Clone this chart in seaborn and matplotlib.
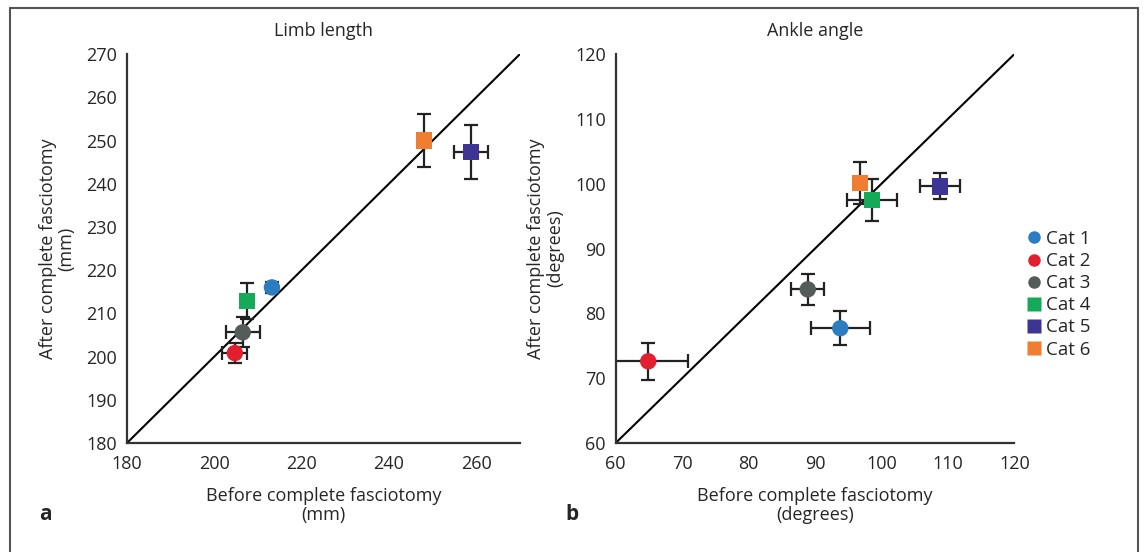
import matplotlib
matplotlib.use("Agg")
import matplotlib.pyplot as plt
import seaborn as sns
import pandas as pd
from matplotlib.lines import Line2D

# --- dados ---
categorias = ['Cat 1', 'Cat 2', 'Cat 3', 'Cat 4', 'Cat 5', 'Cat 6']
cores = ['#2b7cc0', '#e11f2f', '#555b59', '#17a95a', '#3e3493', '#ef7d32']
marcadores = ['o', 'o', 'o', 's', 's', 's']

# painel a: comprimento do membro (mm)
limb_antes = [213.2, 204.7, 206.5, 207.5, 258.8, 248.0]
limb_depois = [216.0, 200.8, 205.6, 212.8, 247.3, 250.0]
limb_xerr = [0.0, 2.9, 3.9, 0.0, 3.9, 0.0]
limb_yerr = [1.2, 2.3, 3.5, 4.2, 6.3, 6.2]

# painel b: angulo do tornozelo (graus)
ankle_antes = [93.8, 64.9, 88.9, 98.6, 108.8, 96.8]
ankle_depois = [77.7, 72.6, 83.7, 97.5, 99.6, 100.1]
ankle_xerr = [4.4, 6.0, 2.5, 3.8, 3.0, 0.0]
ankle_yerr = [2.6, 2.9, 2.4, 3.2, 2.0, 3.2]

sns.set_style("white")
plt.rcParams['font.family'] = ['Open Sans', 'DejaVu Sans']

fig = plt.figure(figsize=(11.44, 5.52), dpi=100)
ax_a = fig.add_axes([0.111, 0.1975, 0.3435, 0.7045])
ax_b = fig.add_axes([0.5382, 0.1975, 0.3485, 0.7045])

paleta = dict(zip(categorias, cores))
estilos = dict(zip(categorias, marcadores))


def painel(ax, antes, depois, xerr, yerr, lim, xticks, yticks, titulo, unidade):
    df = pd.DataFrame({'Categoria': categorias, 'Antes': antes, 'Depois': depois})
    # linha identidade
    ax.plot(lim, lim, color='black', lw=1.5, zorder=1)
    # barras de erro
    for i in range(len(categorias)):
        ax.errorbar(antes[i], depois[i],
                    xerr=xerr[i] if xerr[i] > 0 else None,
                    yerr=yerr[i] if yerr[i] > 0 else None,
                    fmt='none', ecolor='#222222', elinewidth=1.6,
                    capsize=5, capthick=1.6, zorder=2)
    sns.scatterplot(data=df, x='Antes', y='Depois', hue='Categoria', style='Categoria',
                    palette=paleta, markers=estilos, s=140, edgecolor='none',
                    legend=False, ax=ax, zorder=3)
    ax.set_xlim(lim)
    ax.set_ylim(lim)
    ax.set_xticks(xticks)
    ax.set_yticks(yticks)
    ax.set_title(titulo, fontsize=13, pad=13)
    ax.set_xlabel(f'Before complete fasciotomy\n{unidade}', fontsize=13,
                  linespacing=1.05, labelpad=10)
    ax.set_ylabel(f'After complete fasciotomy\n{unidade}', fontsize=13,
                  linespacing=1.05, labelpad=8)
    ax.tick_params(labelsize=13, length=3, color='#999999', direction='out')
    ax.tick_params(axis='x', pad=6)
    ax.tick_params(axis='y', pad=4)
    for s in ['top', 'right']:
        ax.spines[s].set_visible(False)
    for s in ['left', 'bottom']:
        ax.spines[s].set_color('#333333')
        ax.spines[s].set_linewidth(1.6)


painel(ax_a, limb_antes, limb_depois, limb_xerr, limb_yerr, [180, 270],
       [180, 200, 220, 240, 260], list(range(180, 271, 10)), 'Limb length', '(mm)')
painel(ax_b, ankle_antes, ankle_depois, ankle_xerr, ankle_yerr, [60, 120],
       list(range(60, 121, 10)), list(range(60, 121, 10)), 'Ankle angle', '(degrees)')

# legenda
handles = [Line2D([0], [0], marker=m, color='none', markerfacecolor=c,
                  markeredgecolor='none', markersize=9 if m == 'o' else 10, label=l)
           for l, c, m in zip(categorias, cores, marcadores)]
fig.legend(handles=handles, loc='upper left', bbox_to_anchor=(0.892, 0.597),
           frameon=False, fontsize=13.5, handlelength=0.6, handletextpad=0.35,
           labelspacing=0.22, borderaxespad=0)

# letras dos paineis
fig.text(0.034, 0.058, 'a', fontsize=15, fontweight='bold')
fig.text(0.494, 0.058, 'b', fontsize=15, fontweight='bold')

# moldura em volta da figura (sem borda inferior)
moldura = dict(color='#555555', lw=1.5, transform=fig.transFigure)
fig.add_artist(Line2D([10 / 1144, 10 / 1144], [1 - 8 / 552, 0], **moldura))
fig.add_artist(Line2D([10 / 1144, 1138 / 1144], [1 - 8 / 552, 1 - 8 / 552], **moldura))
fig.add_artist(Line2D([1138 / 1144, 1138 / 1144], [1 - 8 / 552, 0], **moldura))

fig.savefig('out.png', dpi=100)
